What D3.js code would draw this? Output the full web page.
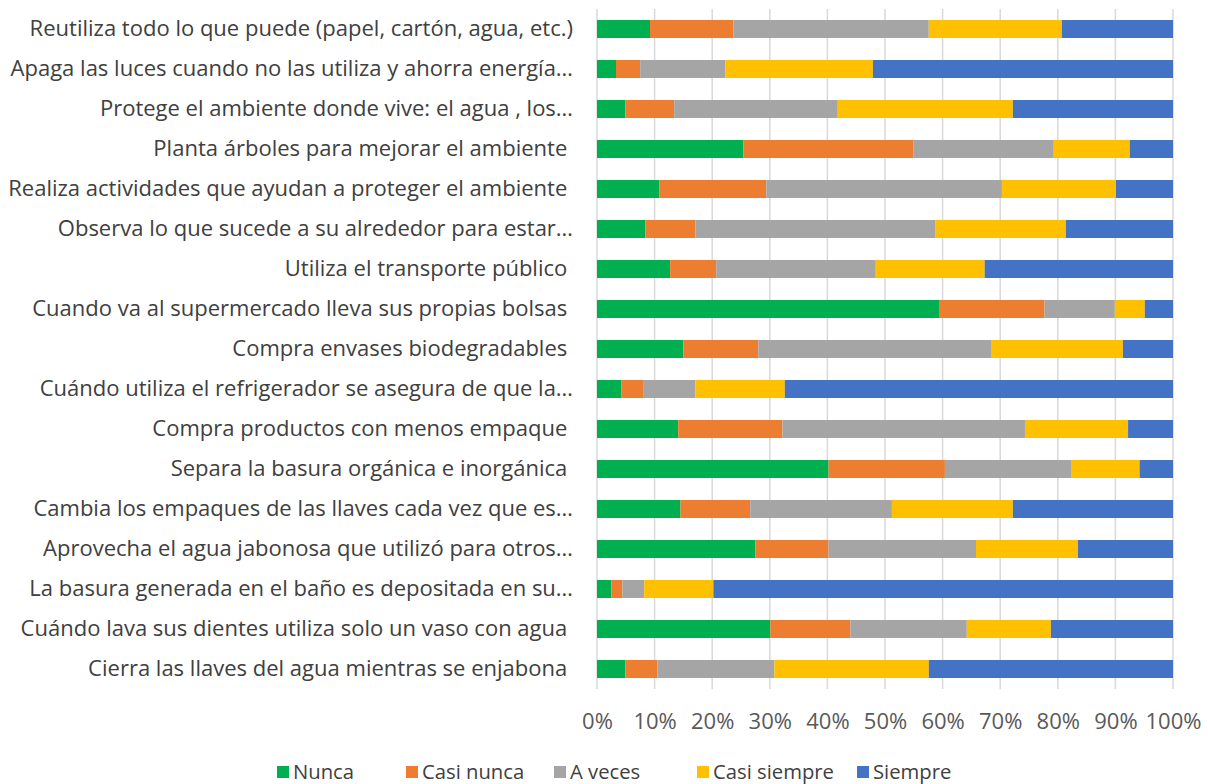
<!DOCTYPE html>
<html>
<head>
<meta charset="utf-8">
<script src="https://cdn.jsdelivr.net/npm/d3@7"></script>
<style>
  body { margin: 0; background: #fff; }
  svg text { font-family: "Open Sans", sans-serif; }
</style>
</head>
<body>
<svg id="chart" width="1208" height="784"></svg>
<script>
// categories, top to bottom
const categories = [
    "Reutiliza todo lo que puede (papel, cartón, agua, etc.)",
    "Apaga las luces cuando no las utiliza y ahorra energía…",
    "Protege el ambiente donde vive: el agua , los…",
    "Planta árboles para mejorar el ambiente ",
    "Realiza actividades que ayudan a proteger el ambiente ",
    "Observa lo que sucede a su alrededor para estar…",
    "Utiliza el transporte público ",
    "Cuando va al supermercado lleva sus propias bolsas ",
    "Compra envases biodegradables ",
    "Cuándo utiliza el refrigerador se asegura de que la…",
    "Compra productos con menos empaque ",
    "Separa la basura orgánica e inorgánica ",
    "Cambia los empaques de las llaves cada vez que es…",
    "Aprovecha el agua jabonosa que utilizó para otros…",
    "La basura generada en el baño es depositada en su…",
    "Cuándo lava sus dientes utiliza solo un vaso con agua ",
    "Cierra las llaves del agua mientras se enjabona "
];

const seriesNames = ["Nunca", "Casi nunca", "A veces", "Casi siempre", "Siempre"];
const seriesColors = ["#00b050", "#ed7d31", "#a5a5a5", "#ffc000", "#4472c4"];

// percentages per series, same order as categories
const nunca       = [9.2, 3.3, 4.9, 25.4, 10.8, 8.4, 12.7, 59.5, 15.0, 4.2, 14.1, 40.2, 14.5, 27.5, 2.5, 30.1, 4.9];
const casiNunca   = [14.5, 4.2, 8.5, 29.5, 18.6, 8.7, 8.0, 18.2, 13.0, 3.8, 18.1, 20.2, 12.1, 12.7, 1.9, 13.9, 5.6];
const aVeces      = [33.9, 14.8, 28.4, 24.4, 40.9, 41.6, 27.7, 12.2, 40.4, 9.1, 42.1, 21.9, 24.6, 25.6, 3.8, 20.2, 20.3];
const casiSiempre = [23.1, 25.6, 30.4, 13.2, 19.8, 22.7, 18.9, 5.2, 22.9, 15.5, 17.9, 11.9, 21.0, 17.7, 12.0, 14.6, 26.8];
const siempre     = [19.3, 52.1, 27.8, 7.5, 9.9, 18.6, 32.7, 4.9, 8.7, 67.4, 7.8, 5.8, 27.8, 16.5, 79.8, 21.2, 42.4];

const tickValues = [0, 10, 20, 30, 40, 50, 60, 70, 80, 90, 100];

const rows = categories.map((c, i) => ({
    cat: c,
    "Nunca": nunca[i],
    "Casi nunca": casiNunca[i],
    "A veces": aVeces[i],
    "Casi siempre": casiSiempre[i],
    "Siempre": siempre[i]
}));

const svg = d3.select("#chart");
const plot = {left: 597, right: 1173, top: 9, bottom: 689};

const x = d3.scaleLinear().domain([0, 100]).range([plot.left, plot.right]);
const y = d3.scaleBand().domain(categories).range([plot.top, plot.bottom])
    .paddingInner(0.55).paddingOuter(0.275);
const color = d3.scaleOrdinal().domain(seriesNames).range(seriesColors);

// gridlines
svg.append("g")
    .selectAll("line")
    .data(tickValues)
    .join("line")
    .attr("x1", d => x(d)).attr("x2", d => x(d))
    .attr("y1", plot.top).attr("y2", plot.bottom)
    .attr("stroke", "#d9d9d9")
    .attr("stroke-width", 1.5);

// stacked bars
const stack = d3.stack().keys(seriesNames)(rows);
svg.append("g")
    .selectAll("g")
    .data(stack)
    .join("g")
    .attr("fill", d => color(d.key))
    .selectAll("rect")
    .data(d => d)
    .join("rect")
    .attr("x", d => x(d[0]))
    .attr("y", d => y(d.data.cat))
    .attr("width", d => x(d[1]) - x(d[0]))
    .attr("height", y.bandwidth());

// category labels
const yAxis = svg.append("g")
    .attr("transform", `translate(${plot.left},0)`)
    .call(d3.axisLeft(y).tickSize(0).tickPadding(24));
yAxis.select(".domain").remove();
const catText = yAxis.selectAll("text")
    .style("font-size", "20px")
    .style("white-space", "pre")
    .attr("fill", "#404040");

// fit label size so the longest one spans like the original (about 565px)
const widest = d3.max(catText.nodes(), n => n.getComputedTextLength());
const fontSize = 20 * 565 / widest;
catText.style("font-size", fontSize + "px");

// percent axis
const xAxis = svg.append("g")
    .attr("transform", `translate(0,${plot.bottom})`)
    .call(d3.axisBottom(x).tickValues(tickValues).tickFormat(d => d + "%").tickSize(0).tickPadding(24));
xAxis.select(".domain").remove();
xAxis.selectAll("text")
    .style("font-size", fontSize + "px")
    .attr("fill", "#595959");

// legend
const legendX = [277, 406, 554, 697, 857];
const items = svg.append("g")
    .selectAll("g")
    .data(seriesNames)
    .join("g")
    .attr("transform", (d, i) => `translate(${legendX[i]},772)`);
items.append("rect")
    .attr("x", 0).attr("y", -6)
    .attr("width", 12).attr("height", 12)
    .attr("fill", d => color(d));
items.append("text")
    .attr("x", 16).attr("y", 0)
    .attr("dy", "0.35em")
    .style("font-size", (fontSize * 0.92) + "px")
    .attr("fill", "#404040")
    .text(d => d);
</script>
</body>
</html>
